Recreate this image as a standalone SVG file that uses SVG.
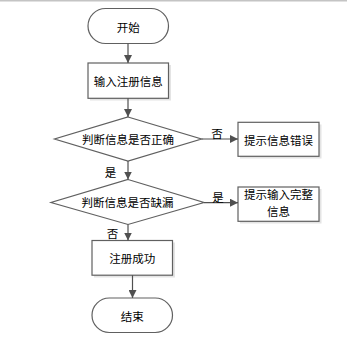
<svg xmlns="http://www.w3.org/2000/svg" width="347" height="352" viewBox="0 0 347 352">
<defs>
<marker id="arr" viewBox="0 0 10 10" refX="10" refY="5" markerWidth="8" markerHeight="8" markerUnits="userSpaceOnUse" orient="auto">
<path d="M0,0 L10,5 L0,10 Z" fill="#505050"/>
</marker>
</defs>
<style>
.shape{fill:#ffffff;stroke:#606060;stroke-width:1.2}
.shadow{fill:#e4e4e4;stroke:none}
.t{font-family:"Noto Sans CJK SC","Noto Sans CJK JP",sans-serif;font-size:11.5px;fill:#000;text-anchor:middle;dominant-baseline:central}
.lbl{font-family:"Noto Sans CJK SC","Noto Sans CJK JP",sans-serif;font-size:11.5px;fill:#000;text-anchor:middle;dominant-baseline:central}
.c{stroke:#505050;stroke-width:1.2;fill:none;marker-end:url(#arr)}
</style>
<rect x="0" y="0" width="347" height="352" fill="#ffffff"/>
<line x1="0" y1="0.75" x2="347" y2="0.75" stroke="#c4c4c4" stroke-width="1.5"/>

<g id="start">
<rect class="shape" x="88" y="8.5" width="80.5" height="35" rx="17.5" ry="17.5"/>
<text class="t" x="128.3" y="26.5">开始</text>
</g>

<g id="input">
<rect class="shadow" x="90" y="65" width="81" height="35.5"/>
<rect class="shape" x="88" y="63" width="80.5" height="35.3"/>
<text class="t" x="128.3" y="80.8">输入注册信息</text>
</g>

<g id="check1">
<polygon class="shape" points="128,117 201.5,139 128,161 54.5,139"/>
<text class="t" x="128" y="139.3">判断信息是否正确</text>
</g>

<g id="err">
<rect class="shadow" x="240" y="124.5" width="81.5" height="34"/>
<rect class="shape" x="238" y="122.3" width="81" height="34"/>
<text class="t" x="278.5" y="139.5">提示信息错误</text>
</g>

<g id="check2">
<polygon class="shape" points="128,179.5 204,202.5 128,224.5 51,202.5"/>
<text class="t" x="127.5" y="202.3">判断信息是否缺漏</text>
</g>

<g id="incomplete">
<rect class="shadow" x="240" y="189" width="81.5" height="34.5"/>
<rect class="shape" x="238" y="187" width="81" height="34.3"/>
<text class="t" x="278.5" y="193.5">提示输入完整</text>
<text class="t" x="278.5" y="211">信息</text>
</g>

<g id="success">
<rect class="shadow" x="94" y="242.5" width="81" height="35"/>
<rect class="shape" x="92" y="240.5" width="80.5" height="34.7"/>
<text class="t" x="132.3" y="258">注册成功</text>
</g>

<g id="end">
<rect class="shape" x="92" y="298" width="80.5" height="34.5" rx="17.3" ry="17.3"/>
<text class="t" x="132.3" y="315.8">结束</text>
</g>

<g id="connectors">
<line class="c" x1="128" y1="43.5" x2="128" y2="63"/>
<line class="c" x1="128" y1="98.3" x2="128" y2="117"/>
<line class="c" x1="128" y1="161" x2="128" y2="179.5"/>
<line class="c" x1="201.5" y1="139" x2="238" y2="139"/>
<line class="c" x1="204" y1="202.7" x2="238" y2="202.7"/>
<line class="c" x1="128" y1="224.5" x2="128" y2="240.5"/>
<line class="c" x1="132.5" y1="275.2" x2="132.5" y2="298"/>
<text class="lbl" x="217" y="132.5">否</text>
<text class="lbl" x="110.5" y="171.5">是</text>
<text class="lbl" x="218" y="196.5">是</text>
<text class="lbl" x="112.5" y="233">否</text>
</g>
</svg>
